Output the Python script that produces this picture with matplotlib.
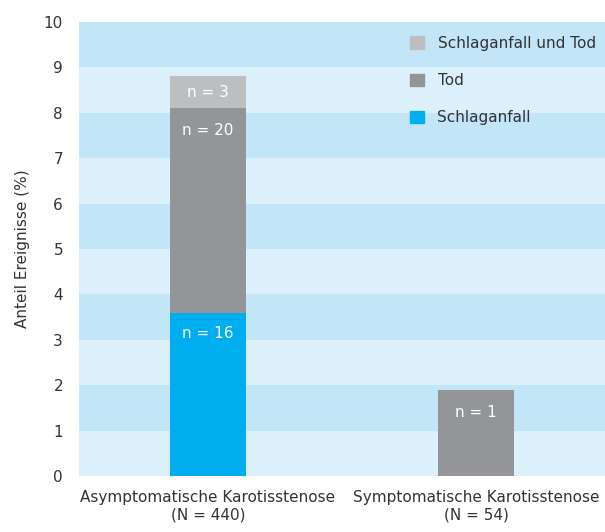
import numpy as np
import matplotlib.pyplot as plt
from matplotlib.patches import Patch

plt.rcParams['font.family'] = ['Liberation Sans Narrow', 'DejaVu Sans Condensed', 'DejaVu Sans']

gruppen = ['Asymptomatische Karotisstenose\n(N = 440)', 'Symptomatische Karotisstenose\n(N = 54)']
schlaganfall = [3.6, 0.0]
tod = [4.5, 1.9]
schlaganfall_tod = [0.7, 0.0]
n_schlaganfall = ['n = 16', '']
n_tod = ['n = 20', 'n = 1']
n_beides = ['n = 3', '']

farbe_blau = '#00aeef'
farbe_tod = '#939598'
farbe_beides = '#bcbec0'
band_hell = '#dbf0fb'
band_dunkel = '#c2e6f7'

fig = plt.figure(figsize=(6.05, 5.32), dpi=100)
ax = fig.add_axes([79 / 605, 1 - 476 / 532, 526 / 605, (476 - 22) / 532])

# Hintergrundbänder
for k in range(10):
    ax.axhspan(k, k + 1, color=band_dunkel if k % 2 else band_hell, lw=0, zorder=0)

x = np.arange(len(gruppen))
b = 0.284
s = np.array(schlaganfall)
t = np.array(tod)
st = np.array(schlaganfall_tod)
ax.bar(x, s, b, color=farbe_blau, zorder=2)
ax.bar(x, t, b, bottom=s, color=farbe_tod, zorder=2)
ax.bar(x, st, b, bottom=s + t, color=farbe_beides, zorder=2)

for i in range(len(x)):
    if n_schlaganfall[i]:
        ax.text(x[i], s[i] - 0.46, n_schlaganfall[i], ha='center', va='center', color='white', fontsize=11, zorder=3)
    if n_tod[i]:
        ax.text(x[i], s[i] + t[i] - 0.5, n_tod[i], ha='center', va='center', color='white', fontsize=11, zorder=3)
    if n_beides[i]:
        ax.text(x[i], s[i] + t[i] + st[i] - 0.36, n_beides[i], ha='center', va='center', color='white', fontsize=11, zorder=3)

ax.set_xlim(-0.481, 1.481)
ax.set_ylim(0, 10)
ax.set_yticks(range(11))
ax.set_xticks(x)
ax.set_xticklabels(gruppen, fontsize=11, color='#333333', linespacing=1.25)
ax.tick_params(axis='both', length=0, labelsize=11, colors='#333333')
ax.tick_params(axis='y', pad=11.5)
ax.tick_params(axis='x', pad=10)
for sp in ax.spines.values():
    sp.set_visible(False)
ax.set_ylabel('Anteil Ereignisse (%)', fontsize=11, color='#333333', labelpad=10)

handles = [Patch(color=farbe_beides), Patch(color=farbe_tod), Patch(color=farbe_blau)]
labels = ['Schlaganfall und Tod', 'Tod', 'Schlaganfall']
fig.legend(handles, labels, loc='upper left', bbox_to_anchor=(410 / 605, 1 - 36 / 532),
           frameon=False, fontsize=11, handlelength=0.9, handleheight=0.9,
           handletextpad=0.9, labelspacing=1.45, borderpad=0, borderaxespad=0,
           labelcolor='#333333')

fig.savefig('out.png', dpi=100)
